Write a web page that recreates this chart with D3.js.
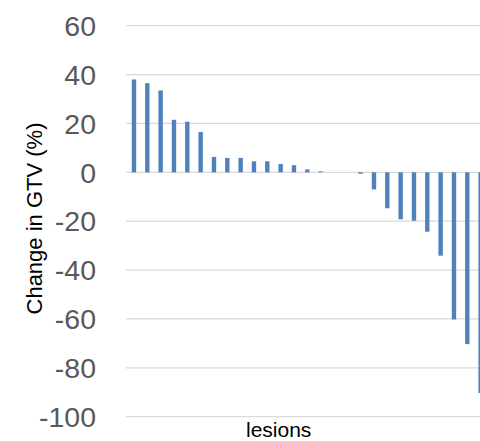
<!DOCTYPE html>
<html>
<head>
<meta charset="utf-8">
<script src="https://cdn.jsdelivr.net/npm/d3@7"></script>
<style>
  html, body { margin: 0; padding: 0; background: #fff; }
  svg { display: block; }
</style>
</head>
<body>
<script>
// Data
const lesions = d3.range(1, 28).map(String);
const changeGTV = [38, 36.5, 33.5, 21.5, 20.7, 16.5, 6.3, 5.9, 5.9, 4.5, 4.5, 3.4, 2.9, 1.2, 0.4, 0, 0,
                   -0.6, -7, -14.7, -19.2, -19.8, -24.3, -34.1, -60.2, -70.3, -90.3];
const yTicks = [60, 40, 20, 0, -20, -40, -60, -80, -100];
const yTitle = "Change in GTV (%)";
const xTitle = "lesions";

const W = 480, H = 441;
const svg = d3.select("body").append("svg").attr("width", W).attr("height", H);

const x = d3.scaleBand().domain(lesions).range([127.3, 487.3]).paddingInner(0.67).paddingOuter(0.335);
const y = d3.scaleLinear().domain([-100, 60]).range([416.7, 25.7]);

// gridlines
svg.append("g").selectAll("line").data(yTicks).join("line")
  .attr("x1", 126).attr("x2", W)
  .attr("y1", d => y(d)).attr("y2", d => y(d))
  .attr("stroke", "#d9d9d9").attr("stroke-width", 1.2);

// tick labels
svg.append("g").selectAll("text").data(yTicks).join("text")
  .attr("x", 96).attr("y", d => y(d)).attr("dy", "0.36em")
  .attr("text-anchor", "end")
  .attr("font-family", "Liberation Sans, Arial, sans-serif")
  .attr("font-size", 28.5).attr("fill", "#595959")
  .text(d => d);

// bars
svg.append("g").selectAll("rect").data(changeGTV).join("rect")
  .attr("x", (d, i) => x(lesions[i]))
  .attr("width", x.bandwidth())
  .attr("y", d => y(Math.max(0, d)))
  .attr("height", d => Math.abs(y(d) - y(0)))
  .attr("fill", "#4f81bd");

// axis titles
svg.append("text")
  .attr("transform", "translate(42,218.5) rotate(-90)")
  .attr("text-anchor", "middle")
  .attr("font-family", "Liberation Sans, Arial, sans-serif")
  .attr("font-size", 22).attr("fill", "#000")
  .text(yTitle);

svg.append("text")
  .attr("x", 278.7).attr("y", 436.5)
  .attr("text-anchor", "middle")
  .attr("font-family", "Liberation Sans, Arial, sans-serif")
  .attr("font-size", 21).attr("fill", "#000")
  .text(xTitle);
</script>
</body>
</html>
